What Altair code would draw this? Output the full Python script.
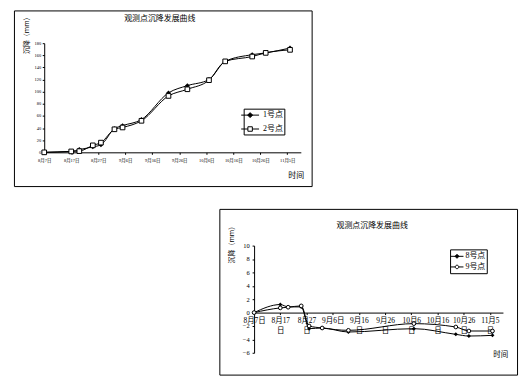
import json
import altair as alt
import pandas as pd

# ---------------- data ----------------
top_dates = ["2009-08-07", "2009-08-17", "2009-08-20", "2009-08-25", "2009-08-28",
             "2009-09-02", "2009-09-05", "2009-09-12", "2009-09-22", "2009-09-29",
             "2009-10-07", "2009-10-13", "2009-10-23", "2009-10-28", "2009-11-06"]
top_p1 = [0, 1.5, 4.5, 9, 12.5, 39, 44, 54, 98, 110, 120, 150, 161, 164, 172]
top_p2 = [0, 1.5, 2, 11.5, 16, 38, 41, 52, 93, 104, 119, 150, 158, 164, 169]
top_series = ["1号点", "2号点"]

bot_dates = ["2009-08-07", "2009-08-17", "2009-08-20", "2009-08-25", "2009-08-28",
             "2009-09-02", "2009-09-12", "2009-10-07", "2009-10-23", "2009-10-28",
             "2009-11-06"]
bot_p8 = [0, 1.2, 0.85, 0.85, -2.4, -2.3, -2.9, -2.4, -3.25, -3.5, -3.4]
bot_p9 = [0, 0.7, 0.8, 1.0, -2.0, -2.3, -2.65, -1.65, -2.15, -2.75, -2.75]
bot_series = ["8号点", "9号点"]

top_tick_labels = ["8月7日", "8月17日", "8月27日", "9月6日", "9月16日", "9月26日",
                   "10月6日", "10月16日", "10月26日", "11月5日"]
bot_tick_labels = [["8月7日"], ["8月17", "日"], ["8月27", "日"], ["9月6日"], ["9月16", "日"],
                   ["9月26", "日"], ["10月6", "日"], ["10月16", "日"], ["10月26", "日"],
                   ["11月5", "日"]]
tick_days = list(range(0, 91, 10))
top_y_ticks = list(range(0, 181, 20))
bot_y_ticks = list(range(-6, 11, 2))

title_text = "观测点沉降发展曲线"
y_title = "沉降（mm）"
x_title = "时间"


def day_offsets(dates):
    d = pd.to_datetime(pd.Series(dates))
    return list((d - d.iloc[0]).dt.days)


def long_df(dates, s1, s2, names):
    days = day_offsets(dates)
    rows = []
    for v, n in ((s1, names[0]), (s2, names[1])):
        for dd, vv in zip(days, v):
            rows.append({"day": dd, "value": vv, "series": n})
    return pd.DataFrame(rows)


df_top = long_df(top_dates, top_p1, top_p2, top_series)
df_bot = long_df(bot_dates, bot_p8, bot_p9, bot_series)

FONT = "Liberation Serif, Noto Sans CJK SC"
CJK = "Noto Sans CJK SC"


def panel(df, names, tick_expr, y_ticks, W, H, xr, yr, ydom, x_off, y_off,
          lab_fs_x, lab_fs_y, lab_pad_x, lab_pad_y, xt, yt, title_pos,
          leg, mark1, mark2, paths, line_h):
    xs = alt.Scale(domain=[0, 95], range=xr, nice=False, zero=False)
    ys = alt.Scale(domain=ydom, range=yr, nice=False, zero=False)
    x_axis = alt.Axis(values=tick_days, labelExpr=tick_expr, orient="bottom", offset=x_off,
                      labelFontSize=lab_fs_x, labelFont=FONT, labelColor="black",
                      labelLineHeight=line_h,
                      tickSize=2, tickColor="black", domainColor="black", labelPadding=lab_pad_x,
                      labelFlush=False, labelOverlap=False, labelBound=False, grid=False,
                      title=x_title, titleFont=CJK, titleFontSize=xt[2], titleFontWeight="normal",
                      titleColor="black", titleX=xt[0], titleY=xt[1], titleAlign="center",
                      titleBaseline="middle", titleAngle=0)
    y_axis = alt.Axis(values=y_ticks, orient="left", offset=y_off,
                      labelFontSize=lab_fs_y, labelFont=FONT, labelColor="black",
                      tickSize=2, tickColor="black", domainColor="black", labelPadding=lab_pad_y,
                      labelFlush=False, labelOverlap=False, labelBound=False, grid=False,
                      title=y_title, titleFont=CJK, titleFontSize=yt[2], titleFontWeight="normal",
                      titleColor="black", titleX=yt[0], titleY=yt[1], titleAlign="center",
                      titleBaseline="middle", titleAngle=270)
    X = alt.X("day:Q", scale=xs, axis=x_axis)
    Y = alt.Y("value:Q", scale=ys, axis=y_axis)
    base = alt.Chart(df)
    line = base.mark_line(interpolate="monotone", color="black", strokeWidth=1).encode(
        x=X, y=Y, detail="series:N",
    )
    p1 = base.transform_filter(alt.datum.series == names[0]).mark_point(
        shape=mark1[0], filled=True, color="black", size=mark1[1], opacity=1
    ).encode(x=X, y=Y)
    p2 = base.transform_filter(alt.datum.series == names[1]).mark_point(
        shape=mark2[0], filled=False, fill="white", stroke="black", strokeWidth=1,
        size=mark2[1], opacity=1
    ).encode(x=X, y=Y)
    legend = alt.Legend(orient="none", legendX=leg[0], legendY=leg[1], title=None,
                        strokeColor="black", fillColor="white", padding=leg[2],
                        labelFont=FONT, labelFontSize=8, labelColor="black",
                        symbolSize=100, symbolStrokeWidth=1, symbolStrokeColor="black",
                        labelOffset=leg[3], rowPadding=leg[4], symbolOpacity=1)
    lg = base.transform_filter("false").mark_point(strokeWidth=1, opacity=1).encode(
        x=X, y=Y,
        shape=alt.Shape("series:N", scale=alt.Scale(domain=names, range=paths), legend=legend),
        fill=alt.Fill("series:N", scale=alt.Scale(domain=names, range=["black", "white"]), legend=legend),
        stroke=alt.Stroke("series:N", scale=alt.Scale(domain=names, range=["black", "black"]), legend=legend),
    )
    ttl = alt.Chart(pd.DataFrame({"t": [title_text]})).mark_text(
        font=CJK, fontSize=8, color="black", align="center", baseline="middle"
    ).encode(text="t:N", x=alt.value(title_pos[0]), y=alt.value(title_pos[1]))
    return alt.layer(line, p1, p2, lg, ttl).resolve_scale(
        shape="independent", fill="independent", stroke="independent"
    ).properties(
        width=W, height=H,
        view=alt.ViewBackground(stroke="black", strokeWidth=1, fill="white"),
    )


top_expr = json.dumps(top_tick_labels, ensure_ascii=False) + "[round(datum.value/10)]"
bot_expr = json.dumps(bot_tick_labels, ensure_ascii=False) + "[round(datum.value/10)]"

# legend symbols: short line with the series marker in the middle
top_paths = ["M-1.8,0H1.8M0,-0.5L0.5,0L0,0.5L-0.5,0Z",
             "M-1.8,0H-0.45M0.45,0H1.8M-0.45,-0.45H0.45V0.45H-0.45Z"]
bot_paths = ["M-1.3,0H1.3M0,-0.4L0.4,0L0,0.4L-0.4,0Z",
             "M-1.3,0H-0.35M0.35,0H1.3M-0.35,0A0.35,0.35 0 1,1 0.35,0A0.35,0.35 0 1,1 -0.35,0Z"]

top = panel(df_top, top_series, top_expr, top_y_ticks, 300, 177,
            [30.5, 289.1], [143, 33], [0, 180], -34, -30.5,
            4.5, 4.5, 3, 1.5, (284, 23, 8), (-17.5, 23, 7), (147, 9),
            (231.5, 99, 1, 7.5, 4), ("diamond", 25), ("square", 22), top_paths, 6)

bottom = panel(df_bot, bot_series, bot_expr, bot_y_ticks, 300, 167,
               [35, 285.8], [145, 37], [-6, 10], -62.5, -35,
               7.5, 6.5, 1.75, 3, (283, 42.5, 7.5), (-23, 34, 7), (154, 17),
               (232.5, 40.8, 1.5, 3, 0.7), ("diamond", 16), ("circle", 14), bot_paths, 10)

spacer = alt.Chart(pd.DataFrame({"a": [0]})).mark_point(opacity=0, size=0).encode(
    x=alt.value(0), y=alt.value(0)
).properties(width=196, height=167)

row2 = alt.hconcat(spacer, bottom, spacing=10).resolve_scale(
    shape="independent", fill="independent", stroke="independent"
).resolve_legend(shape="independent", fill="independent", stroke="independent")

chart = alt.vconcat(top, row2, spacing=21).resolve_scale(
    shape="independent", fill="independent", stroke="independent"
).resolve_legend(shape="independent", fill="independent", stroke="independent").properties(
    padding={"left": 5, "top": 0, "right": 5, "bottom": 5}
).configure(
    padding={"left": 5, "top": 0, "right": 5, "bottom": 5}
).configure_view(stroke=None).configure_axis(labelOverlap=False)

chart.save("out.html", embed_options={"renderer": "svg", "actions": False})
